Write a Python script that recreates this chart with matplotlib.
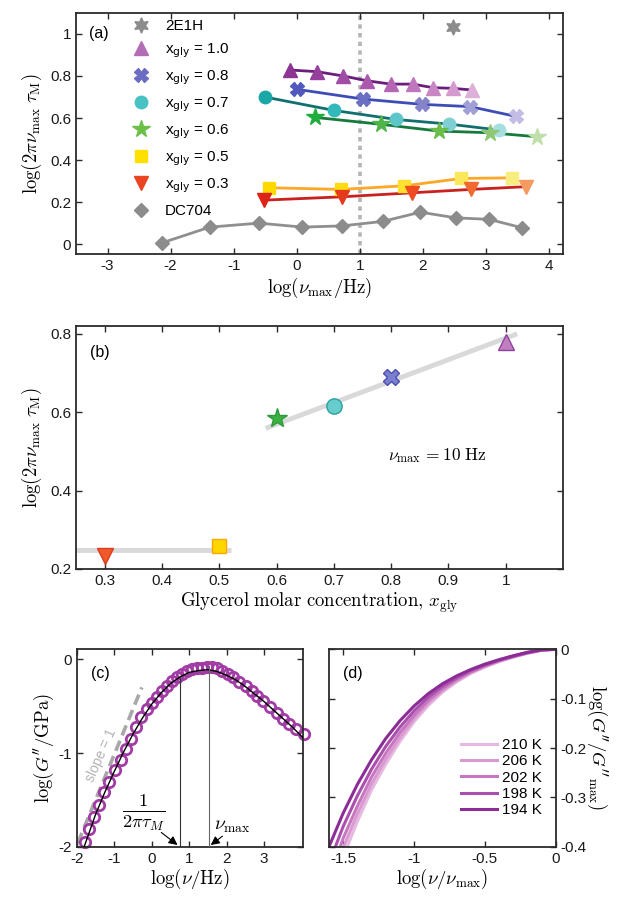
import numpy as np
import matplotlib
matplotlib.use('Agg')
import matplotlib.pyplot as plt
from matplotlib.lines import Line2D
from matplotlib.font_manager import FontProperties
from matplotlib.ticker import FormatStrFormatter

plt.rcParams['font.family'] = ['Liberation Sans', 'DejaVu Sans']
plt.rcParams['mathtext.fontset'] = 'cm'
plt.rcParams['axes.unicode_minus'] = False

# ---- panel (a): log(2 pi nu_max tau_M) vs log(nu_max) ----
e2h_x = [2.47]
e2h_y = [1.033]
gly10_x = [-0.11, 0.32, 0.73, 1.11, 1.49, 1.84, 2.16, 2.47, 2.78]
gly10_y = [0.828, 0.820, 0.800, 0.777, 0.761, 0.761, 0.744, 0.741, 0.733]
gly08_x = [0.01, 1.05, 1.98, 2.75, 3.47]
gly08_y = [0.736, 0.690, 0.665, 0.654, 0.608]
gly07_x = [-0.51, 0.59, 1.58, 2.42, 3.20]
gly07_y = [0.700, 0.636, 0.593, 0.571, 0.543]
gly06_x = [0.29, 1.34, 2.25, 3.07, 3.81]
gly06_y = [0.603, 0.570, 0.538, 0.530, 0.511]
gly05_x = [-0.44, 0.70, 1.70, 2.61, 3.41]
gly05_y = [0.269, 0.261, 0.278, 0.313, 0.316]
gly03_x = [-0.52, 0.72, 1.83, 2.76, 3.63]
gly03_y = [0.210, 0.226, 0.245, 0.261, 0.274]
dc704_x = [-2.13, -1.38, -0.60, 0.09, 0.72, 1.36, 1.96, 2.52, 3.05, 3.57]
dc704_y = [0.008, 0.082, 0.101, 0.082, 0.088, 0.109, 0.153, 0.126, 0.119, 0.079]

# ---- panel (b): value at nu_max = 10 Hz vs glycerol fraction ----
xgly = [0.3, 0.5, 0.6, 0.7, 0.8, 1.0]
tau10 = [0.234, 0.258, 0.585, 0.616, 0.691, 0.779]
fit1_x = [0.25, 0.52]
fit1_y = [0.249, 0.249]
fit2_x = [0.581, 1.02]
fit2_y = [0.559, 0.800]

# ---- panel (c): loss modulus spectrum ----
gpp_x = [-1.78, -1.66, -1.53, -1.40, -1.26, -1.13, -0.98, -0.83, -0.68, -0.55, -0.42, -0.28,
         -0.13, 0.00, 0.14, 0.27, 0.40, 0.54, 0.67, 0.80, 0.94, 1.07, 1.20, 1.34, 1.47, 1.60,
         1.74, 1.87, 2.03, 2.18, 2.34, 2.51, 2.67, 2.82, 2.98, 3.16, 3.34, 3.52, 3.68, 3.85, 4.07]
gpp_y = [-1.947, -1.81, -1.68, -1.55, -1.416, -1.31, -1.186, -1.07, -0.956, -0.85, -0.726, -0.62,
         -0.53, -0.467, -0.40, -0.336, -0.283, -0.23, -0.188, -0.16, -0.124, -0.106, -0.096, -0.088,
         -0.081, -0.081, -0.096, -0.124, -0.16, -0.188, -0.237, -0.283, -0.336, -0.39, -0.44, -0.506,
         -0.575, -0.637, -0.69, -0.743, -0.80]
fitc_x = [-1.8, -1.5, -1.25, -1.0, -0.75, -0.5, -0.25, 0.0, 0.25, 0.5, 0.75, 1.0, 1.25, 1.5,
          1.75, 2.0, 2.25, 2.5, 2.75, 3.0, 3.25, 3.5, 3.75, 4.05]
fitc_y = [-2.0, -1.66, -1.42, -1.20, -0.99, -0.80, -0.63, -0.48, -0.36, -0.26, -0.19, -0.14,
          -0.12, -0.11, -0.13, -0.17, -0.22, -0.29, -0.37, -0.45, -0.54, -0.63, -0.72, -0.84]
slope_x = [-1.97, -0.26]
slope_y = [-1.96, -0.30]
nu_tauM = 0.75
nu_tauM_top = -0.19
nu_max = 1.52
nu_max_top = -0.075

# ---- panel (d): normalised low-frequency flank ----
temps = ['210 K', '206 K', '202 K', '198 K', '194 K']
d_x = [-1.6, -1.5, -1.4, -1.3, -1.2, -1.1, -1.0, -0.9, -0.8, -0.7, -0.6, -0.5, -0.4, -0.3, -0.2, -0.1, 0.0]
d_y = {
    '194 K': [-0.400, -0.332, -0.274, -0.224, -0.181, -0.145, -0.115, -0.090, -0.070, -0.054, -0.041, -0.030, -0.021, -0.013, -0.006, -0.001, 0.0],
    '198 K': [-0.434, -0.359, -0.297, -0.243, -0.197, -0.158, -0.125, -0.097, -0.075, -0.058, -0.043, -0.032, -0.022, -0.014, -0.007, -0.001, 0.0],
    '202 K': [-0.464, -0.383, -0.318, -0.259, -0.211, -0.169, -0.134, -0.104, -0.080, -0.061, -0.046, -0.033, -0.023, -0.015, -0.007, -0.002, 0.0],
    '206 K': [-0.488, -0.402, -0.334, -0.273, -0.223, -0.179, -0.141, -0.109, -0.084, -0.064, -0.047, -0.035, -0.024, -0.015, -0.008, -0.002, 0.0],
    '210 K': [-0.510, -0.420, -0.349, -0.285, -0.233, -0.187, -0.147, -0.114, -0.087, -0.066, -0.049, -0.036, -0.025, -0.016, -0.008, -0.002, 0.0],
}
d_colors = ['#e7b9e0', '#d99ad2', '#c776c0', '#aa4fae', '#8c2c96']

W, H = 625, 901
fig = plt.figure(figsize=(W / 100, H / 100), dpi=100)


def px_axes(l, t, r, b):
    return fig.add_axes([l / W, 1 - b / H, (r - l) / W, (b - t) / H])


def style(ax, labelsize=11):
    for s in ax.spines.values():
        s.set_linewidth(1.3)
        s.set_color('#2b2b2b')
    ax.tick_params(direction='in', top=True, right=True, length=4, width=1.0,
                   colors='#2b2b2b', labelsize=labelsize, labelcolor='#1a1a1a')


lab = 13.5

# ---------------- (a) ----------------
axa = px_axes(76, 12.7, 563, 254.3)
style(axa)
axa.axvline(1.0, color='#b5b5b5', ls=(0, (1.2, 1.2)), lw=2.6, zorder=1)

series = [
    (gly10_x, gly10_y, '^', 10, '#6b1f7c',
     ['#8e3494', '#973f9c', '#a24ca5', '#ab59ad', '#b566b4', '#bf76bd', '#c986c5', '#d49ad0', '#ddb0d9']),
    (gly08_x, gly08_y, 'X', 9.5, '#3d4db5', ['#5259be', '#6a6fc4', '#8584ca', '#a19fd6', '#c2bde6']),
    (gly07_x, gly07_y, 'o', 9, '#11706f', ['#1aa7a8', '#33b9bb', '#5cc6c9', '#7fd0d2', '#a7dfe1']),
    (gly06_x, gly06_y, '*', 13, '#157a3c', ['#1fae3c', '#50b548', '#6bbd4a', '#8fc874', '#bfe0aa']),
    (gly05_x, gly05_y, 's', 8, '#ffa726', ['#ffd800', '#ffdc10', '#ffe030', '#fbe75a', '#f8ee80']),
    (gly03_x, gly03_y, 'v', 10, '#c9211e', ['#dd2418', '#e53a1c', '#ef4a20', '#f26a30', '#f69a60']),
    (dc704_x, dc704_y, 'D', 7, '#8f8f8f', ['#8c8c8c'] * 10),
]
for xs, ys, m, ms, lc, mcs in series:
    axa.plot(xs, ys, '-', color=lc, lw=2, zorder=2)
    for xv, yv, c in zip(xs, ys, mcs):
        axa.plot(xv, yv, m, ms=ms, color=c, mec=c, zorder=3)
axa.plot(e2h_x, e2h_y, marker=(6, 1, 0), ms=11, color='#8c8c8c', ls='none')

axa.set_xlim(-3.5, 4.22)
axa.set_ylim(-0.047, 1.1)
axa.set_xticks(range(-3, 5))
axa.set_yticks([0, 0.2, 0.4, 0.6, 0.8, 1.0])
axa.xaxis.set_major_formatter(FormatStrFormatter('%g'))
axa.yaxis.set_major_formatter(FormatStrFormatter('%g'))
axa.set_xlabel(r'$\log(\nu_{\rm max}/\mathrm{Hz})$', fontsize=lab, labelpad=2)
axa.set_ylabel(r'$\log(2\pi\nu_{\rm max}\ \tau_{\rm M})$', fontsize=lab, labelpad=4)
axa.text(0.027, 0.913, '(a)', transform=axa.transAxes, fontsize=11.5, va='center')

leg_items = [
    ('2E1H', (6, 1, 0), 11, '#8c8c8c'),
    (r'x$_{\rm gly}$ = 1.0', '^', 10, '#b36db6'),
    (r'x$_{\rm gly}$ = 0.8', 'X', 9.5, '#6c6cc2'),
    (r'x$_{\rm gly}$ = 0.7', 'o', 9, '#48c2c3'),
    (r'x$_{\rm gly}$ = 0.6', '*', 13, '#6cc04a'),
    (r'x$_{\rm gly}$ = 0.5', 's', 8, '#ffe000'),
    (r'x$_{\rm gly}$ = 0.3', 'v', 10, '#ea4420'),
    ('DC704', 'D', 7, '#8c8c8c'),
]
handles = [Line2D([], [], ls='none', marker=m, ms=ms, color=c) for _, m, ms, c in leg_items]
leg = axa.legend(handles, [t for t, _, _, _ in leg_items], loc='upper left',
                 bbox_to_anchor=(0.095, 1.01), frameon=False, handletextpad=1.0,
                 labelspacing=0.55, borderaxespad=0.2, handlelength=1.2,
                 prop=FontProperties(family='Liberation Sans', size=11, math_fontfamily='dejavusans'))

# ---------------- (b) ----------------
axb = px_axes(76, 326, 563, 569)
style(axb)
axb.plot(fit1_x, fit1_y, color='#d9d9d9', lw=3.5, solid_capstyle='butt', zorder=1)
axb.plot(fit2_x, fit2_y, color='#d9d9d9', lw=3.5, solid_capstyle='butt', zorder=1)
b_style = [('v', 12, '#f05a28', '#e03a20'), ('s', 10.5, '#ffd700', '#ffa500'),
           ('*', 14.5, '#3cb043', '#2a9a3a'), ('o', 11, '#66cccc', '#2aa0a0'),
           ('X', 12, '#7b7fcf', '#4a4fb0'), ('^', 12, '#c080c0', '#9040a0')]
for xv, yv, (m, ms, fc, ec) in zip(xgly, tau10, b_style):
    axb.plot(xv, yv, m, ms=ms, mfc=fc, mec=ec, mew=1.0, zorder=3, clip_on=False)
axb.set_xlim(0.25, 1.1)
axb.set_ylim(0.2, 0.82)
axb.set_xticks([0.3, 0.4, 0.5, 0.6, 0.7, 0.8, 0.9, 1.0])
axb.set_yticks([0.2, 0.4, 0.6, 0.8])
axb.xaxis.set_major_formatter(FormatStrFormatter('%g'))
axb.yaxis.set_major_formatter(FormatStrFormatter('%g'))
axb.set_xlabel(r'$\mathrm{Glycerol\ molar\ concentration,}\,x_{\rm gly}$', fontsize=lab, labelpad=2)
axb.set_ylabel(r'$\log(2\pi\nu_{\rm max}\ \tau_{\rm M})$', fontsize=lab, labelpad=4)
axb.text(0.029, 0.89, '(b)', transform=axb.transAxes, fontsize=11.5, va='center')
axb.text(0.88, 0.49, r'$\nu_{\rm max}\,{=}10\ \mathrm{Hz}$', fontsize=12.5, ha='center', va='center')

# ---------------- (c) ----------------
axc = px_axes(76.7, 649.3, 303.3, 846.7)
style(axc)
axc.plot(slope_x, slope_y, color='#a8a8a8', lw=2.6, ls=(0, (3, 1.6)), zorder=1)
axc.plot(gpp_x, gpp_y, 'o', ms=7.5, mfc='none', mec='#a03ca4', mew=2.0, zorder=2, clip_on=False)
axc.plot(fitc_x, fitc_y, '-', color='k', lw=1.0, zorder=3)
axc.plot([nu_tauM, nu_tauM], [-2, nu_tauM_top], color='#333333', lw=0.8, zorder=3)
axc.plot([nu_max, nu_max], [-2, nu_max_top], color='#666666', lw=0.8, zorder=3)
axc.annotate('', xy=(nu_tauM, -2.0), xytext=(0.2, -1.83),
             arrowprops=dict(arrowstyle='-|>', color='k', lw=0.8, mutation_scale=13))
axc.annotate('', xy=(nu_max, -2.0), xytext=(1.95, -1.87),
             arrowprops=dict(arrowstyle='-|>', color='k', lw=0.8, mutation_scale=13))
axc.text(-0.2, -1.64, r'$\frac{1}{2\pi\tau_M}$', fontsize=19, ha='center', va='center')
axc.text(2.15, -1.78, r'$\nu_{\rm max}$', fontsize=14, ha='center', va='center')
axc.text(-1.36, -1.02, 'slope = 1', rotation=66, color='#b4b4b4', fontsize=10,
         ha='center', va='center')
axc.set_xlim(-2, 4.05)
axc.set_ylim(-2, 0.107)
axc.set_xticks(range(-2, 4))
axc.set_yticks([-2, -1, 0])
axc.set_xlabel(r'$\log(\nu/\mathrm{Hz})$', fontsize=lab, labelpad=1)
axc.set_ylabel(r"$\log(G''/\mathrm{GPa})$", fontsize=lab, labelpad=2)
axc.text(0.063, 0.878, '(c)', transform=axc.transAxes, fontsize=11.5, va='center')

# ---------------- (d) ----------------
axd = px_axes(329, 649.3, 555.7, 846.7)
style(axd)
for t, c in zip(temps, d_colors):
    axd.plot(d_x, d_y[t], color=c, lw=2.2, label=t)
axd.set_xlim(-1.6, 0)
axd.set_ylim(-0.4, 0)
axd.set_xticks([-1.5, -1, -0.5, 0])
axd.set_yticks([-0.4, -0.3, -0.2, -0.1, 0])
axd.xaxis.set_major_formatter(FormatStrFormatter('%g'))
axd.yaxis.set_major_formatter(FormatStrFormatter('%g'))
axd.tick_params(labelleft=False, labelright=True)
axd.yaxis.set_label_position('right')
axd.set_ylabel(r"$\log(G''/G''_{\rm max})$", fontsize=lab, rotation=270, labelpad=16)
axd.set_xlabel(r'$\log(\nu/\nu_{\rm max})$', fontsize=lab, labelpad=1)
axd.text(0.063, 0.878, '(d)', transform=axd.transAxes, fontsize=11.5, va='center')
axd.legend(loc='lower right', bbox_to_anchor=(1.0, 0.08), frameon=False, fontsize=11,
           handlelength=2.4, handletextpad=0.3, labelspacing=0.15)

fig.savefig('out.png', dpi=100)
